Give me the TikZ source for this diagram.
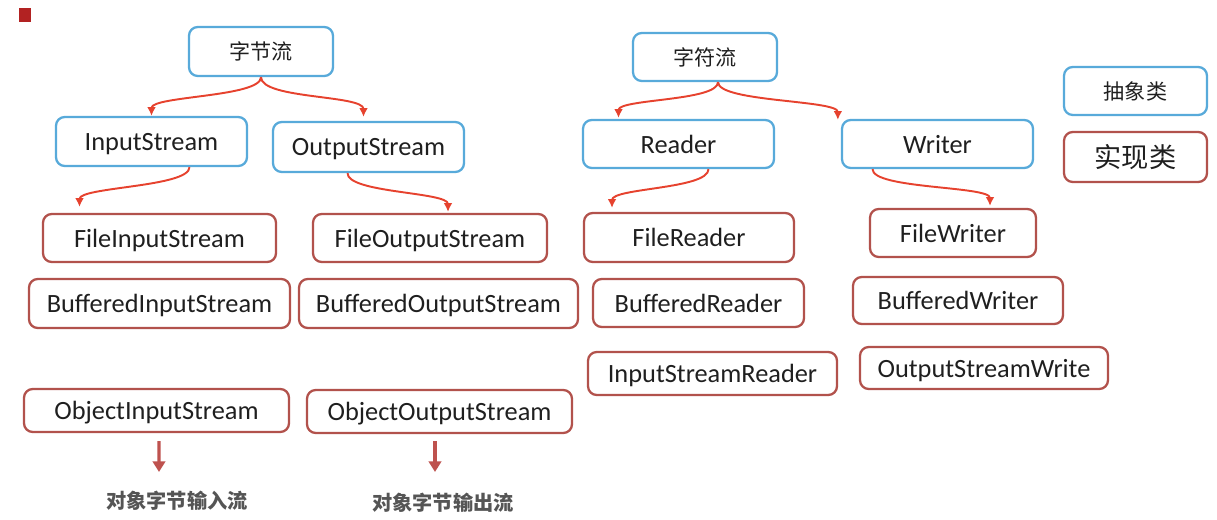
\documentclass[tikz,border=0pt]{standalone}
\usepackage{fontspec}
\setmainfont{Carlito}
\newfontfamily\cjk{Noto Sans CJK SC}
\usepackage{xcolor}
\usetikzlibrary{arrows.meta,calc}

\definecolor{absblue}{RGB}{88,170,218}
\definecolor{implred}{RGB}{178,82,76}
\definecolor{curvered}{RGB}{230,66,46}
\definecolor{objred}{RGB}{190,82,78}
\definecolor{markred}{RGB}{178,34,34}
\definecolor{notegray}{RGB}{85,85,85}

\begin{document}
\begin{tikzpicture}[
  x=0.02cm, y=-0.02cm,
  font=\fontsize{15}{18}\selectfont,
  wh/.style 2 args={minimum width=#1*0.02cm, minimum height=#2*0.02cm},
  abstract/.style={draw=absblue, line width=1.3pt, rounded corners=5pt, inner sep=0pt, text=black!88, text depth=0pt},
  concrete/.style={draw=implred, line width=1.3pt, rounded corners=5pt, inner sep=0pt, text=black!88, text depth=0pt},
  cjkbox/.style={font=\cjk\fontsize{12}{14}\selectfont, text depth=},
  arrow/.style={draw=curvered, line width=1.1pt, -{Latex[length=5pt,width=5pt]}},
  objarrow/.style={draw=objred, line width=1.8pt, -{Triangle[length=6pt,width=7pt]}},
  note/.style={font=\cjk\bfseries\fontsize{11.5}{14}\selectfont, text=notegray, inner sep=0pt}
]
  \useasboundingbox (0,0) rectangle (1217,520);
  \fill[markred] (19,8) rectangle (31,22);

  % byte streams
  \node[abstract, cjkbox, wh={144}{49}] (b_root) at (261,51.5) {字节流};
  \node[abstract, wh={191}{49}] (b_in) at (151.5,141.5) {InputStream};
  \node[abstract, wh={191}{50}] (b_out) at (368.5,147) {OutputStream};
  \node[concrete, wh={233}{48}] (b_fin) at (159.5,238) {FileInputStream};
  \node[concrete, wh={234}{48}] (b_fout) at (430,238) {FileOutputStream};
  \node[concrete, wh={261}{49}] (b_bin) at (159.5,303.5) {BufferedInputStream};
  \node[concrete, wh={279}{49}] (b_bout) at (438.5,303.5) {BufferedOutputStream};
  \node[concrete, wh={265}{43}] (b_obin) at (156.5,410.5) {ObjectInputStream};
  \node[concrete, wh={265}{43}] (b_obout) at (439.5,411.5) {ObjectOutputStream};
  \node[note] (n_obin) at (177,501) {对象字节输入流};
  \node[note] (n_obout) at (443,503) {对象字节输出流};

  % char streams
  \node[abstract, cjkbox, wh={144}{48}] (c_root) at (705,57) {字符流};
  \node[abstract, wh={191}{48}] (c_rd) at (678.5,144) {Reader};
  \node[abstract, wh={191}{48}] (c_wr) at (937.5,144) {Writer};
  \node[concrete, wh={210}{49}] (c_frd) at (689,237.5) {FileReader};
  \node[concrete, wh={211}{48}] (c_brd) at (698.5,303) {BufferedReader};
  \node[concrete, wh={249}{43}] (c_isr) at (712.5,373.5) {InputStreamReader};
  \node[concrete, wh={166}{48}] (c_fwr) at (953,233) {FileWriter};
  \node[concrete, wh={210}{47}] (c_bwr) at (958,300.5) {BufferedWriter};
  \node[concrete, wh={248}{42}] (c_osw) at (984,368) {OutputStreamWrite};

  % legend
  \node[abstract, cjkbox, wh={143}{48}] (l_abs) at (1135.5,91) {抽象类};
  \node[concrete, cjkbox, font=\cjk\fontsize{15.5}{18}\selectfont, wh={143}{50}] (l_impl) at (1135.5,157) {实现类};

  \draw[arrow] (b_root.south) .. controls +(0,20) and +(0,-20) .. (b_in.north);
  \draw[arrow] (b_root.south) .. controls +(0,22) and +(0,-22) .. ($(b_out.north)+(-5,-4)$);
  \draw[arrow] ($(b_in.south)+(38,0)$) .. controls +(0,20) and +(0,-20) .. ($(b_fin.north)+(-80,-6)$);
  \draw[arrow] ($(b_out.south)+(-21,0)$) .. controls +(0,20) and +(0,-20) .. ($(b_fout.north)+(18,-1)$);
  \draw[arrow] ($(c_root.south)+(13,0)$) .. controls +(0,19) and +(0,-19) .. ($(c_rd.north)+(-60,-1)$);
  \draw[arrow] ($(c_root.south)+(13,0)$) .. controls +(0,20) and +(0,-20) .. ($(c_wr.north west)+(-3,1)$);
  \draw[arrow] ($(c_rd.south)+(30,0)$) .. controls +(0,20) and +(0,-20) .. ($(c_frd.north)+(-77,-4)$);
  \draw[arrow] ($(c_wr.south)+(-65,0)$) .. controls +(0,20) and +(0,-20) .. ($(c_fwr.north)+(37,-2)$);

  \coordinate (o_in_end) at (159,472);
  \coordinate (o_out_end) at (435,472);
  \draw[objarrow] ($(b_obin.south)+(2.5,8)$) -- (o_in_end);
  \draw[objarrow] ($(b_obout.south)+(-4.5,7)$) -- (o_out_end);
\end{tikzpicture}
\end{document}
